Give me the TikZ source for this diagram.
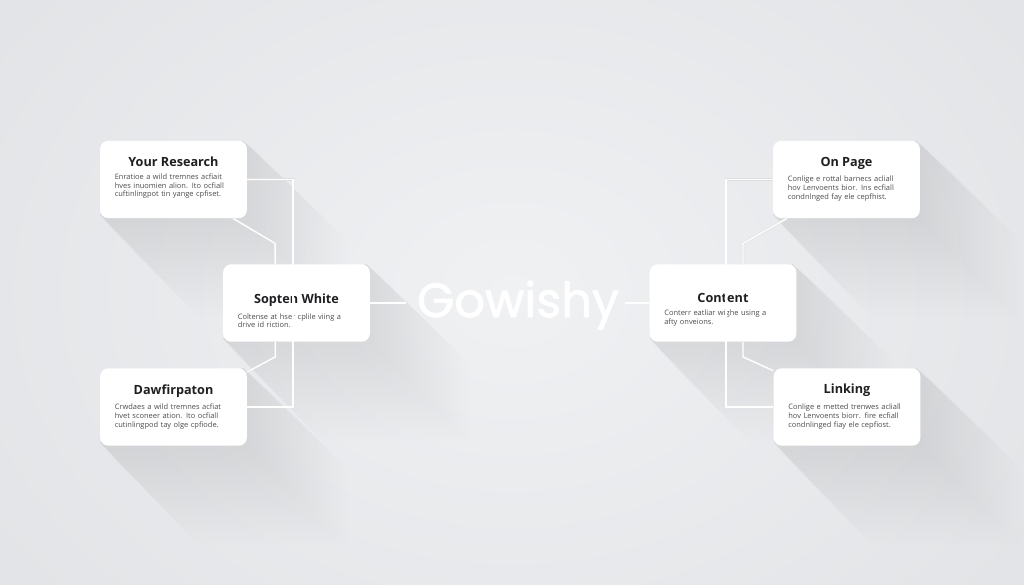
\documentclass[tikz,border=0pt]{standalone}
\usepackage{fontspec}
\setmainfont{Open Sans}
\newfontfamily\logofont{Poppins}[RawFeature={embolden=1.6}]
\usetikzlibrary{positioning}
\pgfdeclarelayer{bg}
\pgfsetlayers{bg,main}

\definecolor{pagedark}{HTML}{E1E2E5}
\definecolor{pagelight}{HTML}{F0F1F3}
\definecolor{inktitle}{HTML}{1F1F22}
\definecolor{inkbody}{HTML}{4A4C50}

\tikzset{
  card/.style={fill=white, rounded corners=6pt, minimum width=110pt, minimum height=58pt, inner sep=0pt},
  cardtitle/.style={font=\bfseries\fontsize{9.5}{11}\selectfont, text=inktitle, inner sep=0pt},
  cardbody/.style={font=\fontsize{5.6}{6.5}\selectfont, text=inkbody, text width=88pt, align=left, inner sep=0pt},
  link/.style={draw=white, line width=1pt, preaction={draw=black!13, line width=1.8pt}},
  logo/.style={font=\logofont\fontsize{36}{40}\selectfont, text=white, inner sep=0pt},
}

\begin{document}
\begin{tikzpicture}[x=0.75pt, y=-0.75pt]
  \useasboundingbox (0,0) rectangle (1024,585);

  % cards
  \node[card] (yr) at (173.5,179.5) {};
  \node[card] (sw) at (296.5,303) {};
  \node[card] (dw) at (173.5,407) {};
  \node[card] (op) at (846.5,179.5) {};
  \node[card] (ct) at (723,303) {};
  \node[card] (lk) at (847,407) {};

  % titles and texts
  \node[cardtitle, below=12pt of yr.north] (yr-t) {Your Research};
  \node[cardbody, below=5pt of yr-t] (yr-b) {Enratioe a wild tremnes acfiait\\hves inuomien alion. Ito ocfiall\\cuftinlingpot tin yange cpfiset.};

  \node[cardtitle, below=22pt of sw.north] (sw-t) {Sopten White};
  \node[cardbody, below=5pt of sw-t] (sw-b) {Coltense at hser cplile viing a\\drive id riction.};

  \node[cardtitle, below=12pt of dw.north] (dw-t) {Dawfirpaton};
  \node[cardbody, below=5pt of dw-t] (dw-b) {Crwdaes a wild tremnes acfiat\\hvet sconeer ation. Ito ocfiall\\cutinlingpod tay olge cpfiode.};

  \node[cardtitle, below=12pt of op.north] (op-t) {On Page};
  \node[cardbody, below=5pt of op-t] (op-b) {Conlige e rottal barnecs acliall\\hov Lenvoents bior. Ins ecfiall\\condnlnged fay ele cepfhist.};

  \node[cardtitle, below=22pt of ct.north] (ct-t) {Content};
  \node[cardbody, below=5pt of ct-t] (ct-b) {Conterr eatliar wighe using a\\afty onveions.};

  \node[cardtitle, below=12pt of lk.north] (lk-t) {Linking};
  \node[cardbody, below=5pt of lk-t] (lk-b) {Conlige e metted trenwes acliall\\hov Lenvoents biorr. fire ecfiall\\condnlinged fiay ele cepfiost.};

  % centre word
  \node[logo] (logo) at (518,305) {Gowishy};

  % connectors
  \draw[link] (yr.east) -- ++(46,0) |- (dw.east);
  \draw[link] ([xshift=-10.5pt]yr.south east) -- ++(42,25) -- ([xshift=-16pt]sw.north);
  \draw[link] ([xshift=-16pt]sw.south) -- ++(0,15) -- ([yshift=-3pt]dw.north east);
  \draw[link, shorten >=8pt] (sw.east) -- (sw.east -| logo.west);
  \draw[link] (op.west) -- ++(-47,0) |- (lk.west);
  \draw[link] ([xshift=10.5pt]op.south west) -- ++(-44,25) -- ([xshift=15pt]ct.north);
  \draw[link] ([xshift=15pt]ct.south) -- ++(0,15) -- ([yshift=-2pt]lk.north west);
  \draw[link, shorten <=4pt] (ct.west -| logo.east) -- (ct.west);

  % background and long shadows
  \begin{pgfonlayer}{bg}
    \shade[inner color=pagelight, outer color=pagedark] (-200,-250) rectangle (1224,835);
    \foreach \b in {yr,sw,dw,op,ct,lk}
      \foreach \l in {5,10,...,100}
        \fill[black, opacity=0.0055]
          ([xshift=-3pt]\b.north east) -- ([shift={(\l,\l)}]\b.north east)
          -- ([shift={(\l,\l)}]\b.south east) -- ([shift={(\l,\l)}]\b.south west)
          -- ([yshift=3pt]\b.south west) -- cycle;
  \end{pgfonlayer}
\end{tikzpicture}
\end{document}
